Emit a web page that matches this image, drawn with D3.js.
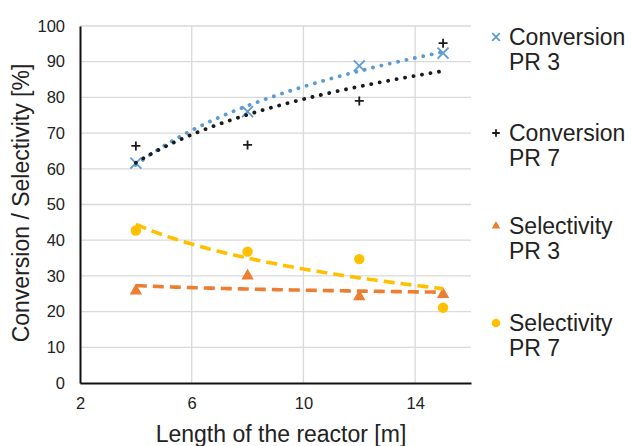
<!DOCTYPE html>
<html>
<head>
<meta charset="utf-8">
<script src="https://cdn.jsdelivr.net/npm/d3@7"></script>
<style>
  body { margin: 0; background: #fff; }
  text { font-family: "Liberation Sans", Arial, sans-serif; fill: #222; }
</style>
</head>
<body>
<div id="chart"></div>
<script>
// Data
const lengths = [4, 8, 12, 15];
const convPR3 = [61.6, 76, 88.8, 92.4];
const convPR7 = [66.4, 66.7, 79, 95.2];
const selPR3 = [25.8, 30, 24.2, 24.8];
const selPR7 = [42.7, 36.8, 34.7, 21.1];
const xTicks = [2, 6, 10, 14];
const yTicks = [0, 10, 20, 30, 40, 50, 60, 70, 80, 90, 100];

const width = 633, height = 446;
const plot = { left: 80, right: 471, top: 26, bottom: 383 };

const svg = d3.select("#chart").append("svg")
    .attr("width", width)
    .attr("height", height);

const x = d3.scaleLinear().domain([2, 16]).range([plot.left, plot.right]);
const y = d3.scaleLinear().domain([0, 100]).range([plot.bottom, plot.top]);

// Gridlines
svg.append("g")
    .selectAll("line")
    .data(yTicks.filter(d => d > 0))
    .enter().append("line")
    .attr("x1", plot.left).attr("x2", plot.right)
    .attr("y1", d => y(d)).attr("y2", d => y(d))
    .attr("stroke", "#d9d9d9").attr("stroke-width", 1.3);

svg.append("g")
    .selectAll("line")
    .data(xTicks.filter(d => d > 2))
    .enter().append("line")
    .attr("x1", d => x(d)).attr("x2", d => x(d))
    .attr("y1", plot.top).attr("y2", plot.bottom)
    .attr("stroke", "#d9d9d9").attr("stroke-width", 1.3);

// Axes
const yAxis = svg.append("g")
    .attr("transform", `translate(${plot.left},0)`)
    .call(d3.axisLeft(y).tickValues(yTicks).tickSize(0).tickPadding(15));
const xAxis = svg.append("g")
    .attr("transform", `translate(0,${plot.bottom})`)
    .call(d3.axisBottom(x).tickValues(xTicks).tickSize(0).tickPadding(14));

[xAxis, yAxis].forEach(a => {
    a.select(".domain").attr("stroke", "#111").attr("stroke-width", 2);
    a.selectAll("text").style("font-size", "16.5px").style("font-family", "Liberation Sans, Arial, sans-serif").attr("fill", "#333");
});

// Axis titles
svg.append("text")
    .attr("x", 281)
    .attr("y", 442)
    .attr("text-anchor", "middle")
    .style("font-size", "23px")
    .text("Length of the reactor [m]");

svg.append("text")
    .attr("transform", "translate(29,203) rotate(-90)")
    .attr("text-anchor", "middle")
    .style("font-size", "23px")
    .text("Conversion / Selectivity [%]");

// Logarithmic trendline fit: y = a + b ln(x)
function logFit(xs, ys) {
    const lx = xs.map(Math.log);
    const mx = d3.mean(lx), my = d3.mean(ys);
    const b = d3.sum(lx, (v, i) => (v - mx) * (ys[i] - my)) / d3.sum(lx, v => (v - mx) ** 2);
    const a = my - b * mx;
    return t => a + b * Math.log(t);
}

const series = [
    { name: "Conversion", sub: "PR 3", values: convPR3, color: "#5b9bd5", marker: "x", dash: "0.1 8.5", width: 3.8 },
    { name: "Conversion", sub: "PR 7", values: convPR7, color: "#1a1a1a", marker: "plus", dash: "0.1 8.5", width: 3.8 },
    { name: "Selectivity", sub: "PR 3", values: selPR3, color: "#ed7d31", marker: "triangle", dash: "11 6", width: 3.6 },
    { name: "Selectivity", sub: "PR 7", values: selPR7, color: "#ffc000", marker: "circle", dash: "11 6", width: 3.6 }
];

const line = d3.line().x(d => x(d[0])).y(d => y(d[1]));
const xs = d3.range(lengths[0], lengths[lengths.length - 1] + 0.01, 0.1);

function drawMarker(g, type, cx, cy, color, s) {
    if (type === "x") {
        g.append("path")
            .attr("d", `M${cx - s},${cy - s}L${cx + s},${cy + s}M${cx - s},${cy + s}L${cx + s},${cy - s}`)
            .attr("stroke", color).attr("stroke-width", 1.8).attr("fill", "none");
    } else if (type === "plus") {
        g.append("path")
            .attr("d", `M${cx - s},${cy}L${cx + s},${cy}M${cx},${cy - s}L${cx},${cy + s}`)
            .attr("stroke", color).attr("stroke-width", 1.8).attr("fill", "none");
    } else if (type === "triangle") {
        g.append("path")
            .attr("d", d3.symbol().type(d3.symbolTriangle).size(s * s * 2.2)())
            .attr("transform", `translate(${cx},${cy})`)
            .attr("fill", color);
    } else {
        g.append("circle").attr("cx", cx).attr("cy", cy).attr("r", s * 0.95).attr("fill", color);
    }
}

// Markers first, trendlines on top (as in the reference)
series.forEach(s => {
    const g = svg.append("g");
    lengths.forEach((l, i) => drawMarker(g, s.marker, x(l), y(s.values[i]), s.color, s.marker === "plus" ? 4.5 : 5.5));
});

series.forEach(s => {
    const f = logFit(lengths, s.values);
    svg.append("path")
        .datum(xs.map(t => [t, f(t)]))
        .attr("d", line)
        .attr("fill", "none")
        .attr("stroke", s.color)
        .attr("stroke-width", s.width)
        .attr("stroke-linecap", s.dash.startsWith("0.1") ? "round" : "butt")
        .attr("stroke-dasharray", s.dash);
});

// Legend
const legendY = [37, 133, 226, 323];
series.forEach((s, i) => {
    const g = svg.append("g");
    const size = s.marker === "circle" ? 4.5 : 3.8;
    drawMarker(g, s.marker, 496, legendY[i], s.color, size);
    g.append("text")
        .attr("x", 509).attr("y", legendY[i] + 8)
        .style("font-size", "23px")
        .text(s.name);
    g.append("text")
        .attr("x", 509).attr("y", legendY[i] + 33)
        .style("font-size", "23px")
        .text(s.sub);
});
</script>
</body>
</html>
